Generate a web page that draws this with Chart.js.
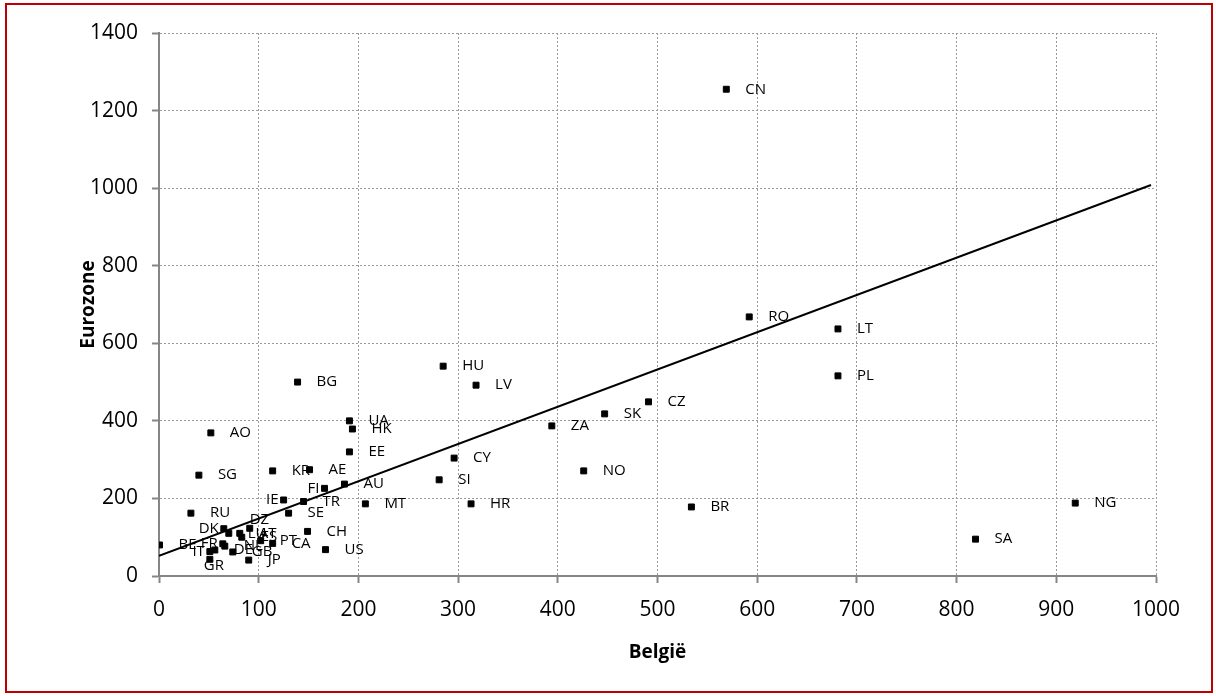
<!DOCTYPE html>
<html>
<head>
<meta charset="utf-8">
<script src="https://cdn.jsdelivr.net/npm/chart.js@4/dist/chart.umd.min.js"></script>
<style>
    body { margin: 0; background: #fff; }
    #wrap { position: relative; width: 1216px; height: 696px; }
    #frame {
        position: absolute; left: 5px; top: 3px; width: 1208px; height: 690px;
        box-sizing: border-box; border: 2px solid #c00000; pointer-events: none;
    }
</style>
</head>
<body>
<div id="wrap">
    <canvas id="scatterChart" width="1216" height="696"></canvas>
    <div id="frame"></div>
</div>
<script>
// landen (labels) en waarden
const countries = ['CN', 'RO', 'LT', 'PL', 'CZ', 'SK', 'ZA', 'HU', 'LV', 'CY', 'SI', 'HR', 'NO', 'BR', 'SA', 'NG',
    'BG', 'UA', 'HK', 'EE', 'AO', 'SG', 'KR', 'AE', 'AU', 'FI', 'TR', 'IE', 'SE', 'MT', 'CH', 'US',
    'RU', 'BE', 'DK', 'DZ', 'AT', 'LU', 'ES', 'PT', 'CA', 'NL', 'GB', 'FR', 'DE', 'IT', 'GR', 'JP'];
const belgie = [569, 592, 681, 681, 491, 447, 394, 285, 318, 296, 281, 313, 426, 534, 819, 919,
    139, 191, 194, 191, 52, 40, 114, 151, 186, 166, 145, 125, 130, 207, 149, 167,
    32, 0.5, 65, 91, 81, 70, 83, 102, 114, 66, 74, 64, 56, 51, 51, 90];
const eurozone = [1255, 668, 637, 516, 449, 418, 387, 541, 492, 304, 248, 186, 271, 178, 95, 188,
    500, 400, 379, 320, 369, 260, 271, 274, 237, 226, 192, 196, 162, 186, 115, 68,
    162, 80, 122, 123, 110, 110, 100, 91, 84, 77, 62, 83, 67, 63, 43, 41];

const trendX = [0, 995];
const trendY = [52, 1008];

// positie van het label t.o.v. het punt: r = rechts, l = links, a = boven, b = onder
const labelPos = {DK: 'l', DZ: 'a', FR: 'l', IT: 'l', GR: 'b', IE: 'l', FI: 'l'};

const FONT = '"Open Sans", "Noto Sans", sans-serif';

const pointLabels = {
    id: 'pointLabels',
    afterDatasetsDraw(chart) {
        const ctx = chart.ctx;
        const meta = chart.getDatasetMeta(0);
        ctx.save();
        ctx.font = '15px ' + FONT;
        ctx.fillStyle = '#000';
        meta.data.forEach((el, i) => {
            const name = countries[i];
            const pos = labelPos[name] || 'r';
            if (pos === 'r') {
                ctx.textAlign = 'left'; ctx.textBaseline = 'middle';
                ctx.fillText(name, el.x + 19, el.y);
            } else if (pos === 'l') {
                ctx.textAlign = 'right'; ctx.textBaseline = 'middle';
                ctx.fillText(name, el.x - 5, el.y);
            } else if (pos === 'a') {
                ctx.textAlign = 'left'; ctx.textBaseline = 'bottom';
                ctx.fillText(name, el.x, el.y - 1);
            } else {
                ctx.textAlign = 'left'; ctx.textBaseline = 'top';
                ctx.fillText(name, el.x - 6, el.y - 1);
            }
        });
        ctx.restore();
    }
};

const gridOpts = {
    color: '#9a9a9a',
    lineWidth: 1,
    tickColor: '#868686',
    tickLength: 7,
    tickWidth: 2
};

// zonder duizendtalscheiding
const plainTick = v => String(v);

new Chart(document.getElementById('scatterChart').getContext('2d'), {
    type: 'scatter',
    data: {
        datasets: [{
            label: 'Landen',
            data: belgie.map((x, i) => ({x: x, y: eurozone[i]})),
            pointStyle: 'rect',
            pointRadius: 4.2,
            pointBorderWidth: 1,
            backgroundColor: '#000',
            borderColor: '#000'
        }, {
            type: 'line',
            label: 'Trend',
            data: trendX.map((x, i) => ({x: x, y: trendY[i]})),
            borderColor: '#000',
            borderWidth: 2,
            pointRadius: 0,
            fill: false
        }]
    },
    options: {
        responsive: false,
        animation: false,
        layout: { padding: { left: 0, top: 33, right: 60, bottom: 0 } },
        plugins: {
            legend: { display: false },
            tooltip: { enabled: false }
        },
        scales: {
            x: {
                type: 'linear',
                min: 0,
                max: 1000,
                grid: gridOpts,
                border: { color: '#868686', width: 2, dash: [2, 2] },
                ticks: { stepSize: 100, color: '#000', padding: 14, callback: plainTick, font: { family: FONT, size: 21 } },
                title: {
                    display: true,
                    text: 'België',
                    color: '#000',
                    padding: { top: 0, bottom: 32 },
                    font: { family: FONT, size: 19, weight: 'bold' }
                },
                afterFit(scale) { scale.height = 120; }
            },
            y: {
                type: 'linear',
                min: 0,
                max: 1400,
                grid: gridOpts,
                border: { color: '#868686', width: 2, dash: [2, 2] },
                ticks: { stepSize: 200, color: '#000', padding: 14, callback: plainTick, font: { family: FONT, size: 21 } },
                title: {
                    display: true,
                    text: 'Eurozone',
                    color: '#000',
                    padding: { top: 77, bottom: 0 },
                    font: { family: FONT, size: 19, weight: 'bold' }
                },
                afterFit(scale) { scale.width = 159; }
            }
        }
    },
    plugins: [pointLabels]
});
</script>
</body>
</html>
